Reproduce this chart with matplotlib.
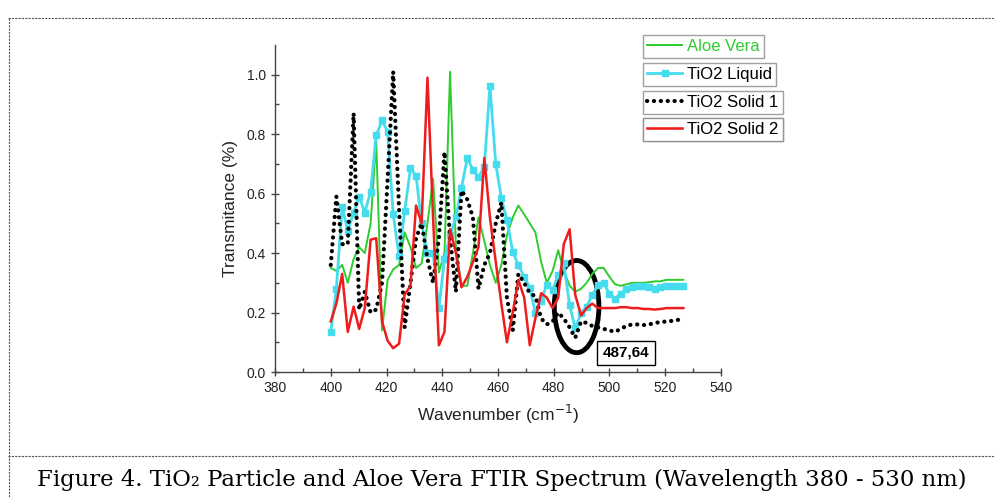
import numpy as np
import matplotlib
matplotlib.use('Agg')
import matplotlib.pyplot as plt
from matplotlib.patches import Ellipse
from matplotlib.lines import Line2D

plt.rcParams['font.family'] = ['Liberation Sans', 'DejaVu Sans']

# wavenumber grid (cm-1)
wn = [400.0, 402.0, 404.1, 406.1, 408.2, 410.2, 412.2, 414.3, 416.3, 418.4,
      420.4, 422.4, 424.5, 426.5, 428.6, 430.6, 432.6, 434.7, 436.7, 438.8,
      440.8, 442.8, 444.9, 446.9, 449.0, 451.0, 453.0, 455.1, 457.1, 459.2,
      461.2, 463.2, 465.3, 467.3, 469.4, 471.4, 473.4, 475.5, 477.5, 479.6,
      481.6, 483.6, 485.7, 487.7, 489.8, 491.8, 493.8, 495.9, 497.9, 500.0,
      502.0, 504.0, 506.1, 508.1, 510.2, 512.2, 514.2, 516.3, 518.3, 520.4,
      522.4, 524.4, 526.5]

aloe = [0.35, 0.34, 0.36, 0.30, 0.38, 0.42, 0.40, 0.50, 0.78, 0.14,
        0.31, 0.345, 0.36, 0.47, 0.42, 0.35, 0.365, 0.50, 0.65, 0.335,
        0.40, 1.01, 0.42, 0.29, 0.29, 0.40, 0.52, 0.44, 0.36, 0.30,
        0.36, 0.46, 0.52, 0.56, 0.53, 0.50, 0.47, 0.37, 0.30, 0.34,
        0.41, 0.34, 0.29, 0.27, 0.28, 0.30, 0.33, 0.35, 0.35, 0.32,
        0.295, 0.29, 0.295, 0.30, 0.30, 0.30, 0.302, 0.305, 0.305, 0.31,
        0.31, 0.31, 0.31]

liquid = [0.134, 0.28, 0.556, 0.475, 0.536, 0.59, 0.536, 0.607, 0.796, 0.846,
          0.808, 0.53, 0.39, 0.54, 0.685, 0.66, 0.50, 0.40, 0.40, 0.214,
          0.38, 0.46, 0.52, 0.62, 0.72, 0.68, 0.655, 0.69, 0.963, 0.70,
          0.585, 0.512, 0.404, 0.36, 0.32, 0.284, 0.20, 0.24, 0.294, 0.277,
          0.325, 0.365, 0.225, 0.147, 0.197, 0.22, 0.258, 0.292, 0.298, 0.264,
          0.247, 0.264, 0.28, 0.285, 0.29, 0.29, 0.285, 0.28, 0.285, 0.29,
          0.29, 0.29, 0.29]

solid1 = [0.36, 0.59, 0.43, 0.43, 0.87, 0.21, 0.27, 0.20, 0.21, 0.30,
          0.65, 1.01, 0.55, 0.15, 0.30, 0.45, 0.50, 0.38, 0.30, 0.45,
          0.74, 0.45, 0.27, 0.61, 0.58, 0.52, 0.28, 0.36, 0.40, 0.50,
          0.57, 0.25, 0.14, 0.33, 0.30, 0.265, 0.255, 0.18, 0.16, 0.17,
          0.20, 0.18, 0.15, 0.115, 0.17, 0.165, 0.155, 0.15, 0.145, 0.14,
          0.135, 0.145, 0.155, 0.16, 0.16, 0.158, 0.16, 0.165, 0.168, 0.17,
          0.172, 0.175, 0.177]

solid2 = [0.17, 0.23, 0.33, 0.135, 0.22, 0.145, 0.215, 0.445, 0.45, 0.17,
          0.105, 0.08, 0.095, 0.26, 0.29, 0.56, 0.50, 0.99, 0.52, 0.09,
          0.135, 0.48, 0.40, 0.285, 0.32, 0.37, 0.42, 0.72, 0.52, 0.37,
          0.23, 0.10, 0.20, 0.31, 0.25, 0.09, 0.18, 0.265, 0.25, 0.215,
          0.25, 0.43, 0.48, 0.26, 0.19, 0.215, 0.23, 0.215, 0.215, 0.215,
          0.215, 0.218, 0.218, 0.215, 0.215, 0.212, 0.212, 0.21, 0.212, 0.215,
          0.215, 0.215, 0.215]

labels = ['Aloe Vera', 'TiO2 Liquid', 'TiO2 Solid 1', 'TiO2 Solid 2']
peak_label = '487,64'

fig = plt.figure(figsize=(9.95, 4.97), dpi=100)
ax = fig.add_axes([0.2764, 0.2515, 0.4482, 0.658])

l1, = ax.plot(wn, aloe, color='#2ecc2e', lw=1.4)
l2, = ax.plot(wn, liquid, color='#45dcee', lw=2, marker='s', ms=4.8)
l3, = ax.plot(wn, solid1, color='black', lw=3, linestyle=(0, (0.05, 1.6)),
              dash_capstyle='round')
l4, = ax.plot(wn, solid2, color='#ee1c1c', lw=1.8)

ax.set_xlim(380, 540)
ax.set_ylim(0, 1.1)
ax.set_xticks(np.arange(380, 541, 20))
ax.set_xticks(np.arange(390, 540, 20), minor=True)
ax.set_yticks([0.0, 0.2, 0.4, 0.6, 0.8, 1.0])
ax.set_yticks([0.1, 0.3, 0.5, 0.7, 0.9], minor=True)
ax.yaxis.set_major_formatter(matplotlib.ticker.FormatStrFormatter('%.1f'))

for s in ['top', 'right']:
    ax.spines[s].set_visible(False)
for s in ['left', 'bottom']:
    ax.spines[s].set_color('#444444')
    ax.spines[s].set_linewidth(1)
ax.tick_params(which='major', direction='inout', length=6, width=1,
               color='#444444', labelsize=10, labelcolor='#222222')
ax.tick_params(which='minor', direction='in', length=3, width=1, color='#444444')

ax.set_xlabel('Wavenumber (cm$^{-1}$)', fontsize=12.5, color='#222222', labelpad=6)
ax.set_ylabel('Transmitance (%)', fontsize=12.5, color='#222222', labelpad=6)

# highlighted minimum
ax.add_patch(Ellipse((488.2, 0.22), width=16, height=0.31, fill=False,
                     lw=3.5, ec='black'))
ax.text(505.9, 0.064, peak_label, ha='center', va='center', fontsize=11,
        fontweight='bold',
        bbox=dict(boxstyle='square,pad=0.35', fc='white', ec='black', lw=1))

# one framed legend box per series
tops = [35, 63, 91, 118]
for line, lab, top in zip([l1, l2, l3, l4], labels, tops):
    leg = ax.legend([line], [lab], loc='upper left',
                    bbox_to_anchor=(643 / 995, 1 - top / 497),
                    bbox_transform=fig.transFigure, fontsize=12,
                    frameon=True, fancybox=False, borderpad=0.25,
                    handlelength=2.1, handletextpad=0.3, borderaxespad=0)
    leg.get_frame().set_edgecolor('#888888')
    leg.get_frame().set_linewidth(1)
    if lab == 'Aloe Vera':
        leg.get_texts()[0].set_color('#2ecc2e')
    ax.add_artist(leg)

# page borders
dash = dict(color='#555555', lw=0.8, linestyle=(0, (2, 1)))
fig.add_artist(Line2D([8 / 995, 1], [1 - 18 / 497] * 2, transform=fig.transFigure, **dash))
fig.add_artist(Line2D([8 / 995, 1], [1 - 456 / 497] * 2, transform=fig.transFigure, **dash))
fig.add_artist(Line2D([9 / 995] * 2, [0, 1 - 18 / 497], transform=fig.transFigure, **dash))

fig.text(502 / 995, 1 - 480 / 497,
         'Figure 4. TiO\u2082 Particle and Aloe Vera FTIR Spectrum (Wavelength 380 - 530 nm)',
         ha='center', va='center', fontsize=16.4, family=['DejaVu Serif'])

fig.savefig('out.png', dpi=100)
